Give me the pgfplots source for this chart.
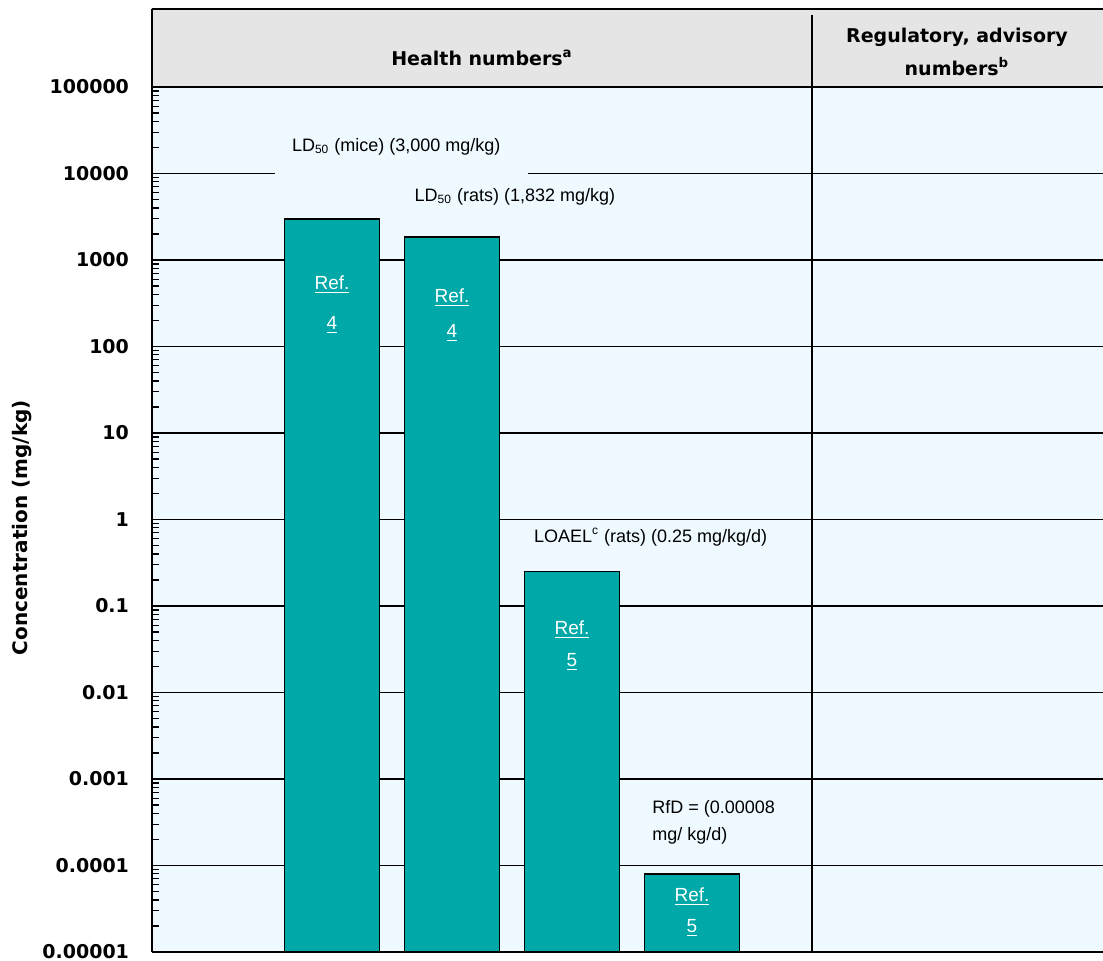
\documentclass[border=0pt]{standalone}
\usepackage{pgfplots}
\pgfplotsset{compat=1.18}
\usepackage{fontspec}
\setmainfont{DejaVu Sans}
\newfontfamily\notefont{Liberation Sans}
\definecolor{barteal}{HTML}{00A8A8}
\definecolor{panelbg}{HTML}{EEFAFF}
\definecolor{headgray}{HTML}{E5E5E5}

\begin{document}
\begin{tikzpicture}
\begin{axis}[
    at={(0,0)}, anchor=south west,
    scale only axis,
    width=475.5pt, height=471.5pt,
    xmin=0, xmax=7.925,
    ymode=log, ymin=1e-5, ymax=798000,
    log origin=infty,
    axis x line=bottom, axis y line=left,
    axis line style={line width=0.8pt, -},
    xtick=\empty,
    ytick={1e-5,1e-4,0.001,0.01,0.1,1,10,100,1000,10000,100000},
    yticklabels={0.00001,0.0001,0.001,0.01,0.1,1,10,100,1000,10000,100000},
    yticklabel style={font=\bfseries\fontsize{9.5}{11}\selectfont, xshift=-8pt},
    tick align=inside,
    major tick length=0pt, minor tick length=3.5pt,
    minor tick style={line width=0.6pt, black},
    ymajorgrids, grid style={line width=0.7pt, black},
    axis background/.style={fill=panelbg},
    ylabel={Concentration (mg/kg)},
    ylabel style={font=\bfseries\fontsize{10}{12}\selectfont,
        at={(axis description cs:-0.137,0.45)}, anchor=center},
]

% bars
\addplot[ybar, bar width=47.5pt, fill=barteal, draw=black, line width=0.9pt]
    coordinates {(1.5,3000)(2.5,1832)(3.5,0.25)(4.5,0.00008)};

% header band
\fill[headgray] (axis cs:0,100000) rectangle (axis cs:7.925,798000);
\draw[line width=0.8pt] (axis cs:0,100000) -- (axis cs:7.925,100000);
\draw[line width=0.8pt] (axis cs:0,100000) -- (axis cs:0,798000) -- (axis cs:7.925,798000);
\draw[line width=0.8pt] (axis cs:5.5,1e-5) -- (axis cs:5.5,680000);

% gap in the 10000 line behind the mice label
\fill[panelbg] (axis cs:1.025,31800) rectangle (axis cs:3.133,7980);

\node[font=\bfseries\fontsize{9.5}{11}\selectfont] at (axis cs:2.75,216000)
    {Health numbers\textsuperscript{a}};
\node[font=\bfseries\fontsize{9.5}{16.5}\selectfont, align=center] at (axis cs:6.708,257000)
    {Regulatory, advisory\\numbers\textsuperscript{b}};

% annotations
\node[anchor=west, font=\notefont\fontsize{9}{11}\selectfont] at (axis cs:1.108,20230)
    {LD\textsubscript{50} (mice) (3,000 mg/kg)};
\node[anchor=west, font=\notefont\fontsize{9}{11}\selectfont] at (axis cs:2.13,5346)
    {LD\textsubscript{50} (rats) (1,832 mg/kg)};
\node[anchor=west, font=\notefont\fontsize{9}{11}\selectfont] at (axis cs:3.125,0.628)
    {LOAEL\textsuperscript{c} (rats) (0.25 mg/kg/d)};
\node[anchor=west, font=\notefont\fontsize{9}{11}\selectfont] at (axis cs:4.11,4.5e-4)
    {RfD = (0.00008};
\node[anchor=west, font=\notefont\fontsize{9}{11}\selectfont] at (axis cs:4.11,2.19e-4)
    {mg/ kg/d)};

% reference labels inside bars
\begin{scope}[every node/.style={text=white, font=\notefont\fontsize{9.5}{11}\selectfont}]
\node at (axis cs:1.5,514) {\underline{Ref.}};
\node at (axis cs:1.5,177) {\underline{4}};
\node at (axis cs:2.5,364) {\underline{Ref.}};
\node at (axis cs:2.5,143) {\underline{4}};
\node at (axis cs:3.5,0.0528) {\underline{Ref.}};
\node at (axis cs:3.5,0.0225) {\underline{5}};
\node at (axis cs:4.5,4.33e-5) {\underline{Ref.}};
\node at (axis cs:4.5,1.89e-5) {\underline{5}};
\end{scope}
\end{axis}
\pgfresetboundingbox
\useasboundingbox (-76pt,-4.5pt) rectangle (475.5pt,476pt);
\end{tikzpicture}
\end{document}
